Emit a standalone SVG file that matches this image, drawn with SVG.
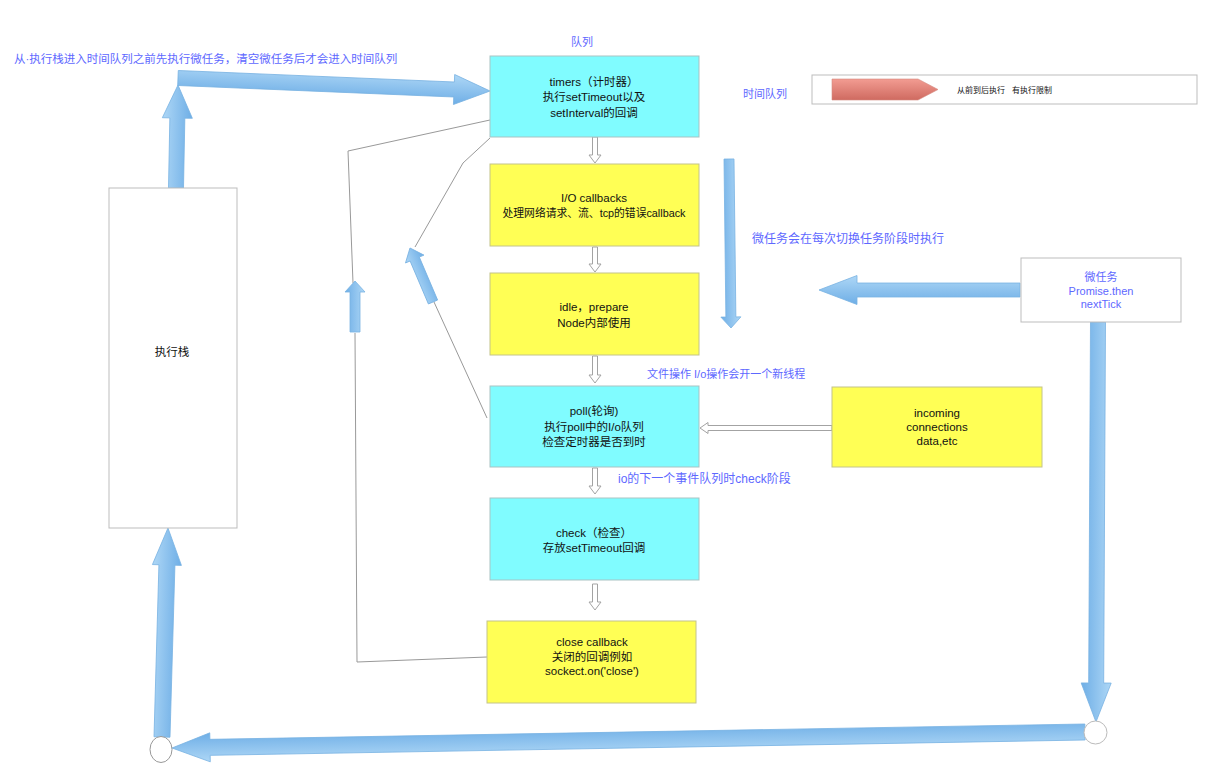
<svg xmlns="http://www.w3.org/2000/svg" width="1219" height="773" viewBox="0 0 1219 773">
<defs>
<linearGradient id="blue" x1="0" y1="0" x2="0" y2="1">
<stop offset="0" stop-color="#aed7f6"/>
<stop offset="1" stop-color="#6eaee6"/>
</linearGradient>
<linearGradient id="blueV" x1="0" y1="0" x2="1" y2="0">
<stop offset="0" stop-color="#6eaee6"/>
<stop offset="1" stop-color="#aed7f6"/>
</linearGradient>
<linearGradient id="red" x1="0" y1="0" x2="0" y2="1">
<stop offset="0" stop-color="#f29c92"/>
<stop offset="1" stop-color="#cf6a60"/>
</linearGradient>
</defs>
<style>
text{font-family:"Liberation Sans","Noto Sans CJK SC",sans-serif;font-size:11.5px;fill:#111}
.c{text-anchor:middle}
.b{fill:#5e68ff;font-size:12px}
.cyan{fill:#80fcff;stroke:#a9c3c3;stroke-width:1}
.yel{fill:#ffff55;stroke:#c4c48a;stroke-width:1}
.wbox{fill:#fff;stroke:#bdbdbd;stroke-width:1}
.ba{fill:url(#blue);stroke:#78b2e2;stroke-width:0.8}
.bv{fill:url(#blueV);stroke:#78b2e2;stroke-width:0.8}
.ga{fill:#fff;stroke:#a3a3a3;stroke-width:1}
.gl{fill:none;stroke:#999;stroke-width:1}
</style>
<rect width="1219" height="773" fill="#fff"/>

<g id="labels">
<text class="b" x="14" y="63" style="font-size:11.5px">从·执行栈进入时间队列之前先执行微任务，清空微任务后才会进入时间队列</text>
<text class="b" x="571" y="46" style="font-size:11px">队列</text>
<text class="b" x="743" y="98" style="font-size:11px">时间队列</text>
<text class="b" x="752" y="243">微任务会在每次切换任务阶段时执行</text>
<text class="b" x="647" y="378" style="font-size:11px">文件操作 I/o操作会开一个新线程</text>
<text class="b" x="618" y="483">io的下一个事件队列时check阶段</text>
</g>

<g id="legend">
<rect class="wbox" x="812" y="75" width="385" height="29"/>
<polygon points="832,79 918,79 938,89.5 918,100 832,100" fill="url(#red)" stroke="#d58a80" stroke-width="0.6"/>
<text x="957" y="93" style="font-size:8px"><tspan x="957">从前到后执行</tspan><tspan x="1012">有执行限制</tspan></text>
</g>

<g id="connectors">
<polyline class="gl" points="490,120 348,151 353,283"/>
<polyline class="gl" points="355,333 357,662 487,657"/>
<polyline class="gl" points="490,138 463,163 415,247"/>
<polyline class="gl" points="434,302 487,418"/>

<polygon class="ga" points="592.5,137 597.5,137 597.5,155 601,155 595,163 589,155 592.5,155"/>
<polygon class="ga" points="592.5,247 597.5,247 597.5,264 601,264 595,272 589,264 592.5,264"/>
<polygon class="ga" points="592.5,356 597.5,356 597.5,375 601,375 595,383 589,375 592.5,375"/>
<polygon class="ga" points="592.5,468 597.5,468 597.5,486 601,486 595,494 589,486 592.5,486"/>
<polygon class="ga" points="592.5,584 597.5,584 597.5,602 601,602 595,610 589,602 592.5,602"/>
<polygon class="ga" points="832,425.5 708,425.5 708,422.5 700,428 708,433.5 708,430.5 832,430.5"/>

<path class="ba" transform="translate(178,78) rotate(2.386)" d="M0,-7.5 L276.3,-7.5 L276.3,-15 L312.3,0 L276.3,15 L276.3,7.5 L0,7.5Z"/>
<path class="ba" transform="translate(176,188) rotate(-88.89)" d="M0,-7.5 L70,-7.5 L70,-15 L103,0 L70,15 L70,7.5 L0,7.5Z"/>
<path class="ba" transform="translate(162,737) rotate(-88.36)" d="M0,-8 L172.1,-8 L172.1,-14.5 L209.1,0 L172.1,14.5 L172.1,8 L0,8Z"/>
<path class="ba" transform="translate(1085,732) rotate(178.996)" d="M0,-8 L875.1,-8 L875.1,-14.5 L913.1,0 L875.1,14.5 L875.1,8 L0,8Z"/>
<path class="ba" transform="translate(1098,322) rotate(90.29)" d="M0,-7.5 L361,-7.5 L361,-15 L400,0 L361,15 L361,7.5 L0,7.5Z"/>
<polygon class="ba" points="1020,283 857,283 857,275.5 819,290 857,304.5 857,297 1020,297"/>
<path class="ba" transform="translate(729,159) rotate(89.32)" d="M0,-5 L158,-5 L158,-10 L169,0 L158,10 L158,5 L0,5Z"/>
<polygon class="bv" points="350,332 350,292 345,292 355,281 365,292 360,292 360,332"/>
<path class="ba" transform="translate(433,302) rotate(-113.07)" d="M0,-5 L46.7,-5 L46.7,-10 L58.7,0 L46.7,10 L46.7,5 L0,5Z"/>
</g>

<g id="stack">
<rect class="wbox" x="109" y="188" width="128" height="340"/>
<text class="c" x="172" y="356">执行栈</text>
</g>

<g id="timers">
<rect class="cyan" x="490" y="56" width="209" height="81"/>
<text class="c" x="594" y="86">timers（计时器）</text>
<text class="c" x="594" y="101">执行setTimeout以及</text>
<text class="c" x="594" y="117">setInterval的回调</text>
</g>

<g id="io-callbacks">
<rect class="yel" x="490" y="164" width="209" height="82"/>
<text class="c" x="594" y="202">I/O callbacks</text>
<text class="c" x="594" y="217" style="font-size:10.8px">处理网络请求、流、tcp的错误callback</text>
</g>

<g id="idle">
<rect class="yel" x="490" y="273" width="209" height="82"/>
<text class="c" x="594" y="311">idle，prepare</text>
<text class="c" x="594" y="327">Node内部使用</text>
</g>

<g id="poll">
<rect class="cyan" x="490" y="386" width="209" height="81"/>
<text class="c" x="594" y="415">poll(轮询)</text>
<text class="c" x="594" y="431">执行poll中的I/o队列</text>
<text class="c" x="594" y="446">检查定时器是否到时</text>
</g>

<g id="check">
<rect class="cyan" x="490" y="498" width="209" height="82"/>
<text class="c" x="594" y="537">check（检查）</text>
<text class="c" x="594" y="552">存放setTimeout回调</text>
</g>

<g id="close-callback">
<rect class="yel" x="487" y="621" width="209" height="82"/>
<text class="c" x="592" y="646">close callback</text>
<text class="c" x="592" y="661">关闭的回调例如</text>
<text class="c" x="592" y="675">sockect.on('close')</text>
</g>

<g id="incoming">
<rect class="yel" x="832" y="387" width="210" height="80"/>
<text class="c" x="937" y="417">incoming</text>
<text class="c" x="937" y="431">connections</text>
<text class="c" x="937" y="445">data,etc</text>
</g>

<g id="microtask">
<rect class="wbox" x="1021" y="258" width="160" height="64"/>
<text class="c b" x="1101" y="281" style="font-size:11px">微任务</text>
<text class="c b" x="1101" y="295" style="font-size:11px">Promise.then</text>
<text class="c b" x="1101" y="308" style="font-size:11px">nextTick</text>
</g>

<g id="node-right">
<circle cx="1095.5" cy="732.5" r="11.5" fill="#fff" stroke="#bbb" stroke-width="1"/>
</g>
<g id="node-left">
<ellipse cx="161" cy="749.5" rx="11" ry="13" fill="#fff" stroke="#999" stroke-width="1"/>
</g>
</svg>
